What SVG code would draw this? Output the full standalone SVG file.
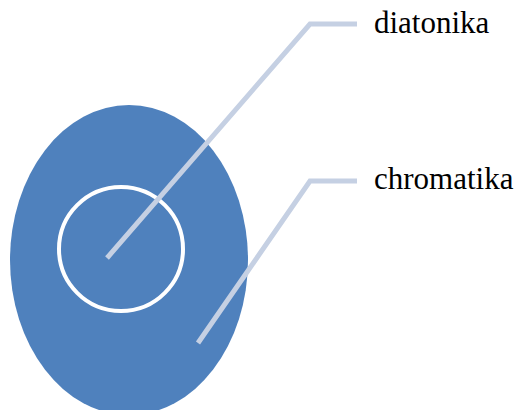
<svg xmlns="http://www.w3.org/2000/svg" width="516" height="410" viewBox="0 0 516 410">
<style>
.lbl{font-family:"Liberation Serif","Times New Roman",serif;font-size:31px;fill:#000}
.conn{fill:none;stroke:#c5d0e3;stroke-width:5}
</style>
<rect width="516" height="410" fill="#fff"/>
<g id="chromatika-set"><ellipse cx="129" cy="260" rx="119" ry="155" fill="#4f81bd"/></g>
<g id="diatonika-set"><circle cx="121" cy="249" r="62" fill="none" stroke="#fff" stroke-width="4"/></g>
<g id="connectors">
<polyline class="conn" points="107,258 310,24 357,24"/>
<polyline class="conn" points="198,343 310,181 357,181"/>
</g>
<g id="label-diatonika"><text class="lbl" x="374" y="33">diatonika</text></g>
<g id="label-chromatika"><text class="lbl" x="374" y="189">chromatika</text></g>
</svg>
